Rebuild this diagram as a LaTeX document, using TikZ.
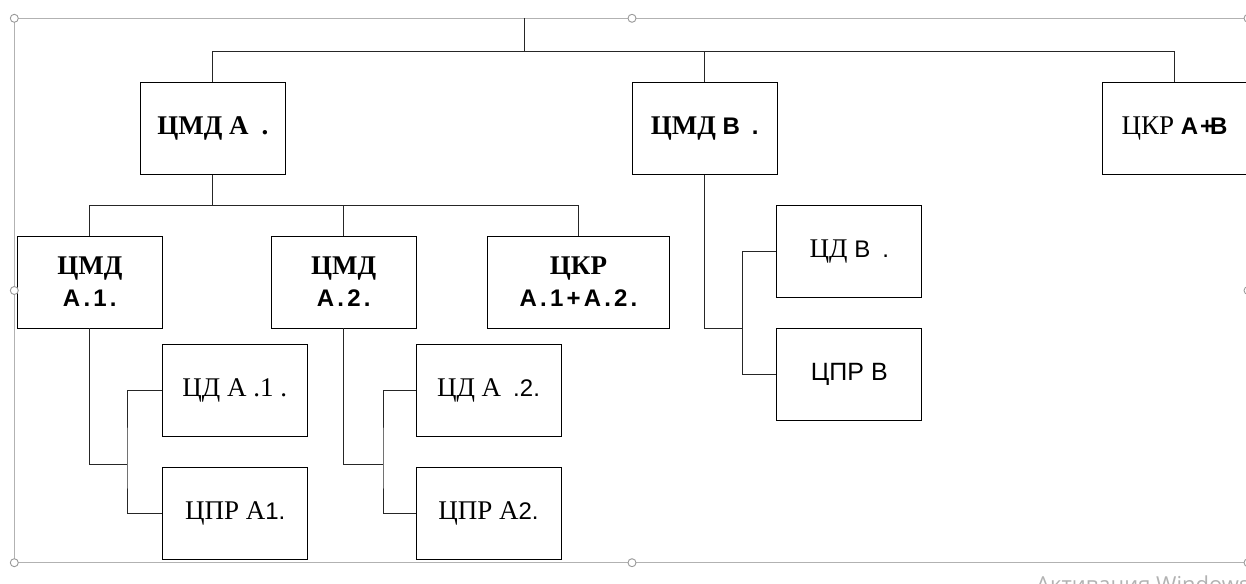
\documentclass[tikz,border=0pt]{standalone}
\usepackage{fontspec}
\setmainfont{Liberation Serif}
\setsansfont{Liberation Sans}
\newfontfamily\wmfont{Open Sans}
\newcommand\serB{\fontsize{27}{32}\selectfont\rmfamily\bfseries}
\newcommand\serR{\fontsize{27}{32}\selectfont\rmfamily\mdseries}
\newcommand\sanB{\fontsize{24}{32}\selectfont\sffamily\bfseries}
\newcommand\sanR{\fontsize{24}{32}\selectfont\sffamily\mdseries}
\newcommand\ks{\kern3.2pt}
\tikzset{
  box/.style={draw=black, line width=0.9pt, minimum width=145pt, minimum height=92pt,
    inner sep=0pt, align=center, font=\fontsize{27}{32}\selectfont},
  conn/.style={draw=black!85, line width=0.9pt},
  selframe/.style={draw=black!30, line width=1pt},
  handle/.style={circle, draw=black!40, fill=white, line width=0.9pt,
    minimum size=8pt, inner sep=0pt},
}
\begin{document}
\begin{tikzpicture}[x=1pt,y=-1pt]
\useasboundingbox (0,0) rectangle (1246,583);
% selection frame
\draw[selframe] (14.3,18.3) rectangle (1248,562.7);
% boxes
\node[box] (rA) at (212.8,128.2) {{\serB ЦМД А\hspace{13pt}.}};
\node[box] (rB) at (704.7,128.2) {{\serB ЦМД }{\sanB В\hspace{12pt}.}};
\node[box] (rC) at (1174.5,128.2) {{\serR ЦКР }{\sanB А\kern2pt+\kern-4ptВ}};
\node[box] (A1) at (89.8,282) {{\serB ЦМД}\\{\sanB А\ks.\ks1\ks.}};
\node[box] (A2) at (343.7,282) {{\serB ЦМД}\\{\sanB А\ks.\ks2\ks.}};
\node[box, minimum width=181.6pt] (KA) at (578.5,282) {{\serB ЦКР}\\{\sanB А\ks.\ks1\ks+\ks А\ks.\ks2\ks.}};
\node[box] (DA1) at (234.7,390.2) {{\serR ЦД А .1 .}};
\node[box] (PA1) at (235.2,513.6) {{\serR ЦПР А}{\sanR 1.}};
\node[box] (DA2) at (488.5,390.2) {{\serR ЦД А\hspace{12pt}}{\sanR .2.}};
\node[box] (PA2) at (488.5,513.6) {{\serR ЦПР А}{\sanR 2.}};
\node[box] (DB) at (849.3,251.5) {{\serR ЦД }{\sanR В\hspace{12pt}.}};
\node[box] (PB) at (849.3,374.8) {{\fontsize{25}{31}\selectfont\sffamily ЦПР В}};
% connectors
\coordinate (top) at (524.3,18.3);
\coordinate (bus) at (524.3,51.7);
\draw[conn] (top) -- (bus);
\draw[conn] (rA.north) |- (bus) -| (rC.north);
\draw[conn] (rB.north) -- (rB.north |- bus);
\coordinate (busA) at (212.8,205.3);
\draw[conn] (rA.south) -- (busA);
\draw[conn] (A1.north) |- (busA) -| (KA.north);
\draw[conn] (A2.north) -- (A2.north |- busA);
\coordinate (jA1) at (127,464);
\draw[conn] (A1.south) |- (jA1);
\draw[conn] (DA1.west) -| (jA1) |- (PA1.west);
\coordinate (jA2) at (383,464);
\draw[conn] (A2.south) |- (jA2);
\draw[conn] (DA2.west) -| (jA2) |- (PA2.west);
\coordinate (jB) at (742.3,328);
\draw[conn] (rB.south) |- (jB);
\draw[conn] (DB.west) -| (jB) |- (PB.west);
% handles
\foreach \p/\n in {{(14.3,18.3)}/h1,{(632,18.3)}/h2,{(1248,18.3)}/h3,{(14.3,290.5)}/h4,{(1248,290.5)}/h5,{(14.3,562.7)}/h6,{(632,562.7)}/h7,{(1248,562.7)}/h8}
  \node[handle] (\n) at \p {};
% watermark
\node[anchor=base west, text=black!30, font=\wmfont\fontsize{22}{22}\selectfont, inner sep=0pt] (wm) at (1036,592) {Активация Windows};
\end{tikzpicture}
\end{document}
